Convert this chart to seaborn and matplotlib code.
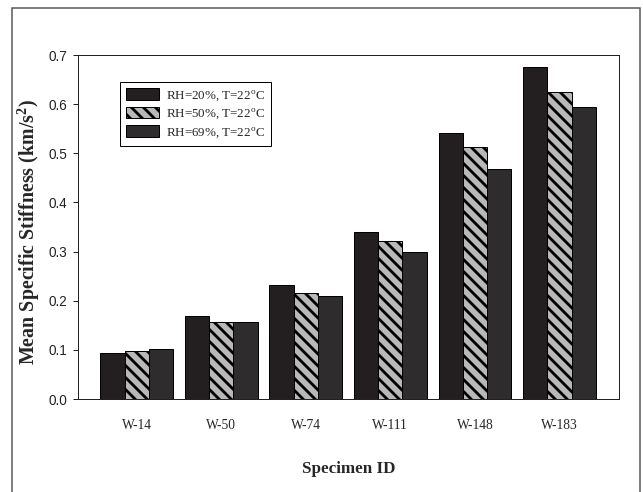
import pandas as pd
import seaborn as sns
from matplotlib import pyplot as plt
from matplotlib.patches import Rectangle

# data
specimens = ['W-14', 'W-50', 'W-74', 'W-111', 'W-148', 'W-183']
conditions = ['RH=20%, T=22$^\\mathrm{o}$C', 'RH=50%, T=22$^\\mathrm{o}$C', 'RH=69%, T=22$^\\mathrm{o}$C']
rh20 = [0.094, 0.169, 0.232, 0.339, 0.541, 0.676]
rh50 = [0.098, 0.157, 0.216, 0.322, 0.512, 0.625]
rh69 = [0.102, 0.156, 0.209, 0.300, 0.468, 0.594]
yticks = [0.0, 0.1, 0.2, 0.3, 0.4, 0.5, 0.6, 0.7]

rows = []
for vals, cond in zip([rh20, rh50, rh69], conditions):
    for s, v in zip(specimens, vals):
        rows.append([s, cond, v])
df = pd.DataFrame(rows, columns=['specimen', 'condition', 'stiffness'])

sns.set_style('ticks')
plt.rcParams['font.family'] = ['Liberation Serif', 'DejaVu Serif']
plt.rcParams['mathtext.fontset'] = 'custom'
plt.rcParams['mathtext.rm'] = 'Liberation Serif'
plt.rcParams['mathtext.bf'] = 'Liberation Serif:bold'
plt.rcParams['hatch.linewidth'] = 2.8

fig = plt.figure(figsize=(643 / 72, 492 / 72), dpi=72)
ax = fig.add_axes([0.1213, 0.189, 0.8414, 0.699])

fills = ['#231f20', '#b8b8b8', '#2e2c2d']
sns.barplot(data=df, x='specimen', y='stiffness', hue='condition', palette=fills,
            width=0.86, gap=0, edgecolor='black', linewidth=1.0, saturation=1, ax=ax)

# diagonal stripes on the middle series
for p in ax.containers[1].patches:
    p.set_hatch('\\\\')

ax.set_ylim(0, 0.7)
ax.set_xlim(-0.695, 5.705)
ax.set_yticks(yticks)
ax.set_yticklabels([f'{t:.1f}' for t in yticks], family=['Liberation Sans', 'DejaVu Sans'], fontsize=13.5)
ax.tick_params(axis='y', direction='out', length=5, width=1, pad=6, colors='#222')
ax.tick_params(axis='x', length=0, pad=20, labelsize=13.5)
for sp in ax.spines.values():
    sp.set_visible(True)
    sp.set_linewidth(1.0)
    sp.set_color('#222')

ax.set_xlabel('Specimen ID', fontsize=17, fontweight='bold')
ax.set_ylabel('Mean Specific Stiffness (km/s$^\\mathbf{2}$)', fontsize=20, fontweight='bold')
ax.xaxis.set_label_coords(0.5, -0.181)
ax.yaxis.set_label_coords(-0.0665, 0.485)

handles = [c.patches[0] for c in ax.containers]
ax.legend(handles, conditions, loc='upper left', bbox_to_anchor=(0.078, 0.921), borderaxespad=0,
          fontsize=13, handlelength=2.5, handleheight=1.0, handletextpad=0.6, labelspacing=0.3,
          frameon=True, fancybox=False, edgecolor='black', framealpha=1, borderpad=0.45)
ax.get_legend().get_frame().set_linewidth(1.0)

# frame around the whole picture
fig.patches.append(Rectangle((12 / 643, -0.01), 628 / 643, 1 - 8 / 492 + 0.01, transform=fig.transFigure,
                             fill=False, edgecolor='#555', linewidth=1.5))

fig.savefig('out.png', dpi=72)
